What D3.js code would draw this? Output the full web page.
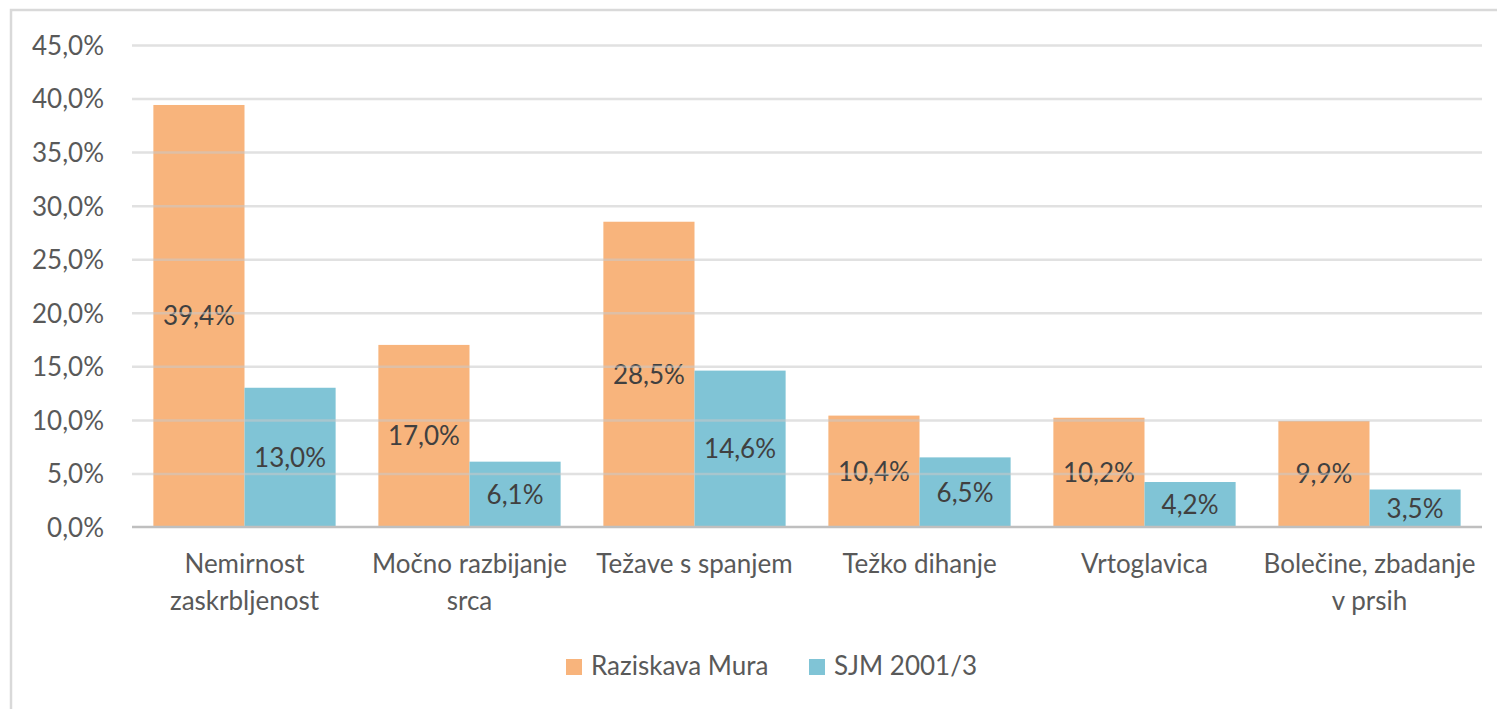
<!DOCTYPE html>
<html>
<head>
<meta charset="utf-8">
<script src="https://cdn.jsdelivr.net/npm/d3@7"></script>
<style>
  html, body { margin: 0; padding: 0; background: #fff; }
  svg { display: block; font-family: Lato, "Open Sans", sans-serif; }
</style>
</head>
<body>
<svg id="chart" width="1497" height="709"></svg>
<script>
const categories = [
  "Nemirnost\nzaskrbljenost",
  "Močno razbijanje\nsrca",
  "Težave s spanjem",
  "Težko dihanje",
  "Vrtoglavica",
  "Bolečine, zbadanje\nv prsih"
];
const seriesNames = ["Raziskava Mura", "SJM 2001/3"];
const muraValues = [0.394, 0.170, 0.285, 0.104, 0.102, 0.099];
const sjmValues  = [0.130, 0.061, 0.146, 0.065, 0.042, 0.035];
const tickValues = [0, 0.05, 0.10, 0.15, 0.20, 0.25, 0.30, 0.35, 0.40, 0.45];
const colors = ["#F8B47C", "#80C4D6"];

const seriesValues = [muraValues, sjmValues];
const locale = d3.formatLocale({decimal: ",", thousands: ".", grouping: [3], currency: ["", "€"]});
const fmt = locale.format(".1%");

const svg = d3.select("#chart");
const plot = {left: 132, right: 1482, top: 45, bottom: 527};

// outer chart border
svg.append("rect")
  .attr("x", 11).attr("y", 10)
  .attr("width", 1520).attr("height", 720)
  .attr("fill", "none").attr("stroke", "#d9d9d9").attr("stroke-width", 2.5);

const y = d3.scaleLinear().domain([0, 0.45]).range([plot.bottom, plot.top]);
const x0 = d3.scaleBand().domain(categories).range([plot.left, plot.right])
  .paddingInner(0.19).paddingOuter(0.095);
const x1 = d3.scaleBand().domain(seriesNames).range([0, x0.bandwidth()]).padding(0);

// bars
const groups = svg.append("g").selectAll("g")
  .data(categories)
  .join("g")
  .attr("transform", d => `translate(${x0(d)},0)`);

groups.selectAll("rect")
  .data((d, i) => seriesNames.map((s, j) => ({s, j, v: seriesValues[j][i]})))
  .join("rect")
  .attr("x", d => x1(d.s))
  .attr("y", d => y(d.v))
  .attr("width", x1.bandwidth())
  .attr("height", d => y(0) - y(d.v))
  .attr("fill", d => colors[d.j]);

// gridlines (drawn over bars, translucent)
const yAxis = d3.axisLeft(y).tickValues(tickValues).tickFormat(fmt)
  .tickSize(-(plot.right - plot.left)).tickPadding(28);
const ga = svg.append("g").attr("transform", `translate(${plot.left},0)`).call(yAxis);
ga.select(".domain").remove();
ga.selectAll(".tick line")
  .attr("stroke", "#c8c8c8").attr("stroke-opacity", d => d === 0 ? 0 : 0.55)
  .attr("stroke-width", 2.5);
ga.selectAll(".tick text")
  .attr("font-size", 26).attr("fill", "#595959")
  .attr("font-family", "Lato, 'Open Sans', sans-serif")
  .attr("dy", "0.36em");

// baseline
svg.append("line")
  .attr("x1", plot.left).attr("x2", plot.right)
  .attr("y1", y(0)).attr("y2", y(0))
  .attr("stroke", "#bfbfbf").attr("stroke-width", 2.5);

// data labels
groups.selectAll("text.lbl")
  .data((d, i) => seriesNames.map((s, j) => ({s, j, v: seriesValues[j][i]})))
  .join("text")
  .attr("class", "lbl")
  .attr("x", d => x1(d.s) + x1.bandwidth() / 2)
  .attr("y", d => (y(d.v) + y(0)) / 2)
  .attr("dy", "0.36em")
  .attr("text-anchor", "middle")
  .attr("font-size", 26)
  .attr("fill", "#404040")
  .text(d => fmt(d.v));

// category labels
const cat = svg.append("g").selectAll("text")
  .data(categories)
  .join("text")
  .attr("x", d => x0(d) + x0.bandwidth() / 2)
  .attr("y", 573)
  .attr("text-anchor", "middle")
  .attr("font-size", 26)
  .attr("fill", "#595959");
cat.each(function(d) {
  const t = d3.select(this);
  const cx = x0(d) + x0.bandwidth() / 2;
  d.split("\n").forEach((line, k) => {
    t.append("tspan").attr("x", cx).attr("dy", k === 0 ? 0 : 37).text(line);
  });
});

// legend
const legendX = [566, 809];
const leg = svg.append("g").selectAll("g")
  .data(seriesNames)
  .join("g")
  .attr("transform", (d, i) => `translate(${legendX[i]},659)`);
leg.append("rect").attr("width", 16).attr("height", 16)
  .attr("fill", (d, i) => colors[i]);
leg.append("text").attr("x", 25).attr("y", 16)
  .attr("font-size", 26).attr("fill", "#595959")
  .text(d => d);
</script>
</body>
</html>
